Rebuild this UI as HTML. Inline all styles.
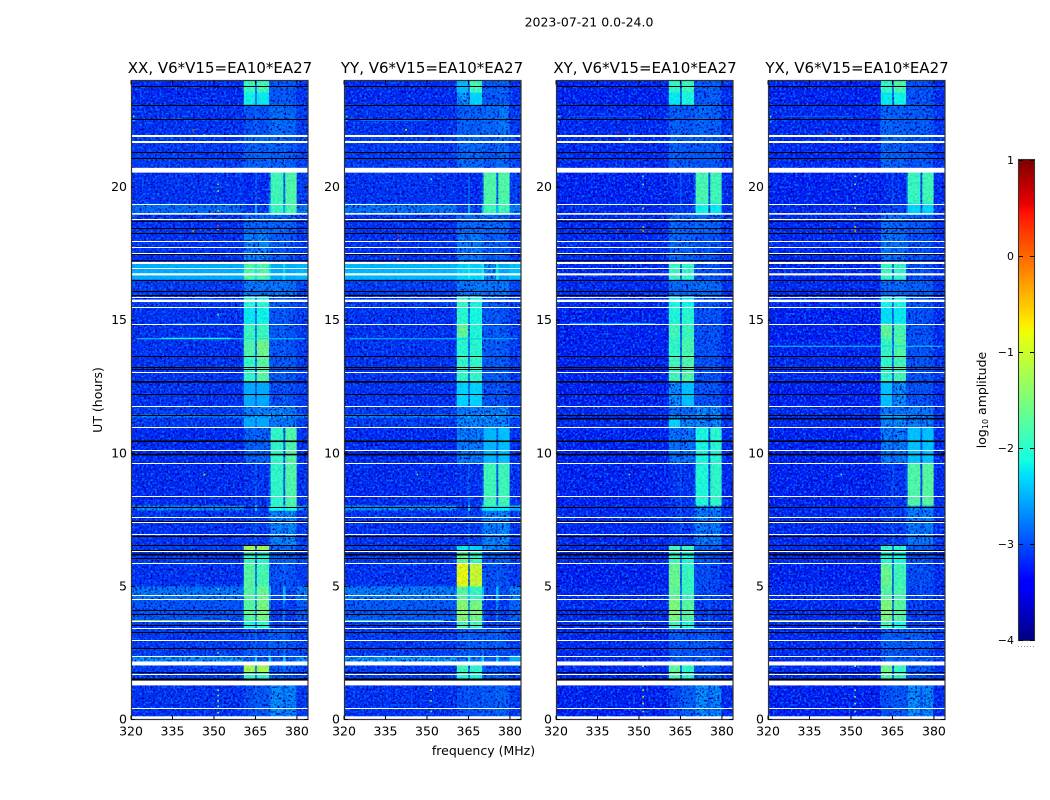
<!DOCTYPE html>
<html lang="en">
<head>
<meta charset="utf-8">
<title>2023-07-21 0.0-24.0</title>
<style>
html,body{margin:0;padding:0;background:#fff;}
svg{display:block;}
text{font-family:"DejaVu Sans","Liberation Sans",sans-serif;fill:#000;}
</style>
</head>
<body>
<svg id="figure" xmlns="http://www.w3.org/2000/svg" width="1050" height="800" viewBox="0 0 1050 800">
  <defs>
    <filter id="speck-dark" x="0" y="0" width="100%" height="100%" color-interpolation-filters="sRGB">
      <feTurbulence type="fractalNoise" baseFrequency="0.45" numOctaves="2" seed="4"/>
      <feColorMatrix type="matrix" values="0 0 0 0 0  0 0 0 0 0  0 0 0 0 0.6  4 0 0 0 -1.9"/>
    </filter>
    <filter id="speck-light" x="0" y="0" width="100%" height="100%" color-interpolation-filters="sRGB">
      <feTurbulence type="fractalNoise" baseFrequency="0.45" numOctaves="2" seed="11"/>
      <feColorMatrix type="matrix" values="0 0 0 0 0  0 0 0 0 0.45  0 0 0 0 1  0 4 0 0 -1.95"/>
    </filter>
  </defs>
  <rect width="1050" height="800" fill="#fff"/>
  <text x="589" y="26.5" text-anchor="middle" font-size="12.5">2023-07-21 0.0-24.0</text>
  <text x="220" y="73" text-anchor="middle" font-size="15">XX, V6*V15=EA10*EA27</text>
  <text x="432" y="73" text-anchor="middle" font-size="15">YY, V6*V15=EA10*EA27</text>
  <text x="645" y="73" text-anchor="middle" font-size="15">XY, V6*V15=EA10*EA27</text>
  <text x="857" y="73" text-anchor="middle" font-size="15">YX, V6*V15=EA10*EA27</text>
  <text transform="translate(102,400) rotate(-90)" text-anchor="middle" font-size="12.5">UT (hours)</text>
  <text x="483.5" y="755" text-anchor="middle" font-size="12.5">frequency (MHz)</text>
  <text transform="translate(986,400) rotate(-90)" text-anchor="middle" font-size="12.5">log<tspan font-size="8" dy="2">10</tspan><tspan dy="-2"> amplitude</tspan></text>
  <g id="panels"></g>
  <g id="colorbar"></g>
</svg>
<script>
// Axis tick labels
const freqTicks = [320, 335, 350, 365, 380];
const utTicks = [0, 5, 10, 15, 20];
const colorTicks = [-4, -3, -2, -1, 0, 1];

// Time rows (UT hours, descending) and frequency columns (MHz)
const utEdges = [24,23.55,23.10,21.97,20.73,20.54,19.38,18.97,18.29,17.16,16.53,15.89,15.51,14.87,14.35,13.67,12.69,11.79,11.46,11.34,10.97,9.64,8.04,7.85,6.54,6.35,5.86,5.00,4.47,3.72,3.42,2.67,2.40,2.18,2.03,1.77,1.54,1.28,0];
const freqEdges = [320,360.8,364.8,365.5,369.8,370.5,375,375.8,379.8,384];

// log10 amplitude per time row: background and four receiver bands
const bgXX    = [-3.2,-3.2,-3.15,-3.1,-3.1,-3.15,-2.8,-3.15,-3.15,-2.5,-3.1,-3.1,-3.15,-3.15,-3.15,-3.15,-3.15,-3.1,-2.65,-3.1,-3.2,-3.2,-2.6,-3.15,-3.1,-3.1,-3.15,-2.75,-2.95,-3.1,-3.1,-3.1,-2.6,-2.6,-3.1,-3.1,-3.1,-3.15];
const low1XX  = [-1.9,-2.15,-2.97,-2.87,-2.87,-3.2,-3.1,-2.82,-2.67,-1.75,-2.72,-2.0,-2.2,-1.9,-1.75,-1.95,-2.52,-2.67,-2.62,-2.52,-2.85,-3.15,-3.1,-3.1,-1.2,-1.9,-1.7,-1.7,-1.7,-2.1,-3.0,-2.92,-2.92,-2.92,-1.2,-1.9,-3.1,-3.0];
const low2XX  = [-1.85,-2.2,-2.97,-2.87,-2.87,-3.2,-3.1,-2.82,-2.62,-1.75,-2.72,-2.0,-2.15,-1.9,-1.55,-1.7,-2.52,-2.62,-2.62,-2.52,-2.85,-3.15,-3.1,-3.1,-1.2,-2.0,-1.8,-1.6,-1.5,-2.0,-3.0,-2.92,-2.92,-2.92,-1.2,-1.95,-3.1,-2.92];
const high1XX = [-2.92,-2.92,-2.77,-2.87,-2.87,-1.85,-1.9,-2.82,-2.92,-2.5,-2.72,-2.92,-2.92,-2.92,-2.92,-2.92,-3.0,-2.62,-2.62,-2.72,-1.95,-1.95,-2.1,-2.67,-2.82,-2.87,-2.97,-3.0,-3.1,-3.1,-2.92,-3.0,-2.92,-2.92,-2.92,-2.92,-2.92,-2.6];
const high2XX = [-2.92,-2.92,-2.82,-2.92,-2.92,-1.75,-1.8,-2.87,-2.97,-2.5,-2.77,-2.97,-2.97,-2.97,-2.97,-2.92,-3.0,-2.67,-2.62,-2.72,-1.75,-1.75,-2.0,-2.62,-2.82,-2.87,-2.97,-3.0,-3.1,-3.1,-2.97,-3.0,-2.92,-2.92,-2.92,-2.97,-2.97,-2.65];

const bgYY    = [-3.2,-3.2,-3.15,-3.1,-3.1,-3.15,-2.75,-3.15,-3.15,-2.45,-3.1,-3.1,-3.15,-3.15,-3.15,-3.15,-3.15,-3.1,-2.6,-3.1,-3.2,-3.2,-2.55,-3.15,-3.1,-3.1,-3.15,-2.7,-2.9,-3.1,-3.1,-3.1,-2.55,-2.55,-3.1,-3.1,-3.1,-3.15];
const low1YY  = [-2.45,-2.55,-2.87,-2.82,-2.82,-3.2,-3.1,-2.82,-2.72,-2.3,-2.72,-1.9,-2.0,-1.65,-2.0,-1.95,-2.3,-2.72,-2.62,-2.62,-2.7,-3.15,-3.1,-3.1,-2.2,-1.6,-0.8,-1.7,-1.4,-1.8,-2.92,-2.92,-2.72,-2.72,-1.85,-2.0,-3.1,-3.0];
const low2YY  = [-1.85,-2.3,-2.87,-2.82,-2.82,-3.2,-3.1,-2.82,-2.72,-2.3,-2.72,-2.1,-2.1,-2.05,-2.0,-1.95,-2.3,-2.72,-2.62,-2.62,-2.7,-3.15,-3.1,-3.1,-2.3,-1.9,-1.0,-1.9,-1.5,-1.9,-2.92,-2.92,-2.72,-2.72,-1.95,-2.1,-3.1,-2.97];
const high1YY = [-2.92,-2.92,-2.82,-2.92,-2.92,-1.75,-1.85,-2.82,-2.92,-2.55,-2.72,-2.92,-2.92,-2.92,-2.92,-2.92,-2.97,-2.62,-2.62,-2.62,-2.45,-1.85,-2.2,-2.67,-2.62,-2.87,-2.97,-3.0,-3.1,-3.1,-2.92,-3.0,-2.92,-2.92,-2.92,-2.92,-2.92,-2.92];
const high2YY = [-2.87,-2.87,-2.72,-2.82,-2.82,-1.75,-1.85,-2.82,-2.92,-2.52,-2.72,-2.97,-2.97,-2.92,-2.92,-2.92,-2.97,-2.62,-2.62,-2.62,-2.4,-1.85,-2.2,-2.62,-2.67,-2.87,-2.97,-3.0,-3.1,-3.1,-2.92,-3.0,-2.92,-2.92,-2.92,-2.92,-2.92,-2.87];

const bgXY    = [-3.25,-3.25,-3.2,-3.2,-3.2,-3.25,-3.2,-3.2,-3.2,-3.2,-3.2,-3.2,-3.25,-3.25,-3.25,-3.25,-3.25,-3.2,-3.2,-3.2,-3.25,-3.25,-3.2,-3.2,-3.2,-3.2,-3.25,-3.2,-3.2,-3.2,-3.2,-3.2,-3.2,-3.2,-3.2,-3.2,-3.2,-3.25];
const low1XY  = [-1.95,-2.2,-2.87,-2.87,-2.87,-3.2,-3.1,-2.82,-2.82,-1.9,-2.82,-2.1,-2.05,-1.85,-1.95,-1.85,-2.57,-2.77,-2.62,-2.3,-2.75,-3.15,-3.1,-3.1,-1.85,-1.9,-1.6,-1.65,-1.45,-1.9,-2.92,-2.92,-2.92,-2.92,-1.65,-1.75,-3.1,-3.05];
const low2XY  = [-1.9,-2.1,-2.92,-2.92,-2.92,-3.2,-3.1,-2.87,-2.87,-1.95,-2.82,-2.15,-2.0,-1.9,-1.8,-1.75,-2.4,-2.82,-2.62,-2.62,-2.75,-3.15,-3.1,-3.1,-1.9,-2.05,-1.9,-1.9,-1.7,-2.05,-2.97,-2.97,-2.97,-2.97,-1.95,-2.0,-3.1,-2.87];
const high1XY = [-2.92,-2.92,-2.82,-2.92,-2.92,-1.8,-2.15,-2.82,-2.97,-2.97,-2.77,-2.97,-2.97,-2.97,-2.97,-2.97,-2.97,-2.57,-2.62,-2.62,-2.1,-2.05,-2.62,-2.72,-2.82,-2.92,-3.0,-3.0,-3.1,-3.1,-2.92,-3.0,-2.92,-2.92,-2.97,-2.97,-2.97,-2.6];
const high2XY = [-2.87,-2.87,-2.87,-2.92,-2.92,-1.85,-2.2,-2.87,-2.97,-2.97,-2.82,-2.97,-2.97,-2.97,-2.97,-2.97,-2.97,-2.62,-2.62,-2.62,-2.0,-1.95,-2.62,-2.72,-2.87,-2.97,-3.05,-3.05,-3.1,-3.1,-2.97,-3.0,-2.97,-2.97,-2.97,-2.97,-2.97,-2.65];

const bgYX    = [-3.25,-3.25,-3.2,-3.2,-3.2,-3.25,-3.2,-3.2,-3.2,-3.2,-3.2,-3.2,-3.25,-3.25,-3.25,-3.2,-3.25,-3.2,-3.2,-3.2,-3.25,-3.25,-3.2,-3.2,-3.2,-3.2,-3.25,-3.2,-3.2,-3.2,-3.2,-3.2,-3.2,-3.2,-3.2,-3.2,-3.2,-3.25];
const low1YX  = [-1.95,-2.2,-2.82,-2.82,-2.82,-3.2,-3.05,-2.77,-2.72,-1.9,-2.82,-2.1,-2.25,-1.65,-1.9,-1.95,-2.4,-2.72,-2.52,-2.62,-2.7,-3.15,-3.1,-3.1,-1.95,-2.0,-1.6,-1.7,-1.45,-1.85,-2.87,-2.92,-2.82,-2.82,-1.55,-1.75,-3.1,-3.0];
const low2YX  = [-1.8,-2.15,-2.87,-2.87,-2.87,-3.2,-3.05,-2.82,-2.77,-1.95,-2.82,-2.1,-2.2,-1.8,-1.75,-1.85,-2.57,-2.77,-2.52,-2.62,-2.7,-3.15,-3.1,-3.1,-2.0,-2.1,-1.85,-1.8,-1.7,-2.1,-2.92,-2.92,-2.92,-2.92,-1.9,-1.95,-3.1,-2.92];
const high1YX = [-2.97,-2.97,-2.92,-2.97,-2.97,-1.9,-2.3,-2.92,-3.0,-3.0,-2.87,-2.97,-2.97,-2.97,-2.97,-2.97,-2.97,-2.72,-2.62,-2.67,-2.4,-1.75,-2.62,-2.72,-2.92,-2.97,-3.0,-3.05,-3.1,-3.1,-2.87,-3.0,-2.92,-2.92,-2.92,-2.97,-2.97,-2.6];
const high2YX = [-2.97,-2.97,-2.92,-2.97,-2.97,-1.85,-2.3,-2.92,-3.0,-3.0,-2.87,-2.97,-2.97,-2.97,-2.97,-2.97,-2.97,-2.72,-2.62,-2.67,-2.4,-1.7,-2.62,-2.72,-2.92,-2.97,-3.0,-3.05,-3.1,-3.1,-2.92,-3.0,-2.92,-2.92,-2.92,-2.97,-2.97,-2.65];

// Flagged (white) integrations: thin lines by UT, and wider [from, to] gaps
const flaggedLines = [21.97,21.9,21.74,21.69,19.37,18.79,17.99,17.74,17.53,17.2,17.13,16.96,15.86,15.49,14.86,13.07,11.78,10.99,10.13,9.64,8.4,7.61,7.4,6.97,6.32,5.87,4.67,4.54,3.69,3.44,2.99,2.39,1.72,0.44];
const flaggedGaps = [[20.72,20.54],[19.02,18.96],[16.76,16.68],[15.77,15.68],[2.18,2.03],[1.46,1.28],[0.12,0]];

// Zero-amplitude (black) integrations by UT
const deadLines = [23.8,23.09,22.56,21.31,21.1,18.74,18.45,18.28,17.47,17.27,16.51,16.09,15.94,13.66,13.25,13.17,12.21,11.43,7.97,7.44,6.91,6.56,6.38,6.05,4.12,3.97,3.54,3.27,2.67,1.77];
const deadGaps = [[12.71,12.65],[10.48,10.42],[9.98,9.92],[6.23,6.16],[1.54,1.46]];
const deadCross = [[11.33,11.27]];

// Narrow RFI streaks: [UT, from MHz, to MHz, log10 amplitude]
const streaksXX = [[3.71,320,356,-1.2],[14.3,322,383,-2.3],[14.32,331,356,-2.1],[14.85,335,356,-2.2]];
const streaksYY = [[3.71,320,356,-1.9],[14.3,322,383,-2.4],[22.5,326,350,-2.8]];
const streaksXY = [[14.87,325,356,-2.5],[3.71,328,350,-2.5],[22.65,325,350,-2.95]];
const streaksYX = [[3.71,320,356,-1.0],[14.02,320,383,-2.3],[22.65,325,350,-2.9]];

// Isolated hot channels: [MHz, UT, log10 amplitude]
const specksXX = [[321,22.65,-1.9],[321,22.5,-2.3],[342.5,22.15,0.2],[346.5,21.95,-1.7],[351.5,20.1,-1.7],[351.5,19.85,-1.5],[351.5,19.1,-0.5],[351.5,18.55,0.1],[351.5,18.42,-0.4],[342.5,18.35,-0.3],[351.5,1.1,-1.5],[351.5,0.9,-1.5],[351.5,0.7,-1.2],[351.5,0.5,-1.3],[351.5,0.25,-1.2],[346.5,9.2,-1.1],[351.5,15.2,-1.9],[351.5,4.9,-1.7],[351.5,2.5,-1.8]];
const specksYY = [[321,22.65,-1.9],[321,22.5,-2.3],[342.5,22.15,-0.8],[351.5,20.3,-2.0],[339.5,18.2,0.3],[339.5,18.0,-0.3],[339.5,17.7,0.2],[339.5,17.3,-0.2],[346.5,9.2,-1.9],[351.5,1.1,-1.6],[351.5,0.7,-1.5],[351.5,0.3,-1.6],[321,5.0,-1.9]];
const specksXY = [[321,22.65,-1.9],[321,22.45,-2.3],[342.5,22.05,0.2],[346.5,21.8,-1.7],[351.5,20.4,-1.7],[351.5,20.1,-1.6],[351.5,19.2,-1.0],[351.5,18.5,-0.4],[351.5,18.35,-0.3],[342.5,18.4,0.1],[346.5,9.2,-1.5],[351.5,1.1,-1.2],[351.5,0.85,-1.2],[351.5,0.6,-1.1],[351.5,0.3,-1.0],[351.5,3.45,-1.5],[351.5,2.0,-1.3]];
const specksYX = [[321,22.65,-1.9],[321,22.45,-2.3],[342.5,22.05,0.2],[346.5,21.8,-1.7],[351.5,20.4,-1.5],[351.5,20.1,-1.4],[351.5,19.2,-1.0],[351.5,18.5,-0.4],[351.5,18.35,-0.3],[342.5,18.4,0.2],[346.5,9.2,-2.0],[351.5,1.1,-1.5],[351.5,0.85,-1.5],[351.5,0.6,-1.5],[351.5,0.3,-1.5],[351.5,3.45,-1.4],[351.5,2.0,-1.2]];

const seriesXX = [bgXX, low1XX, low2XX, high1XX, high2XX];
const seriesYY = [bgYY, low1YY, low2YY, high1YY, high2YY];
const seriesXY = [bgXY, low1XY, low2XY, high1XY, high2XY];
const seriesYX = [bgYX, low1YX, low2YX, high1YX, high2YX];

const NS = 'http://www.w3.org/2000/svg';
const plotTop = 80.5, plotBottom = 719.5, plotWidth = 177;
const freqMin = 320, freqMax = 384, utMax = 24;
const colorMin = -4, colorMax = 1;
const brightCut = -2.55;
const barLeft = 1019, barWidth = 15, barTop = 160, barBottom = 640;

function yScale(ut) { return plotBottom - (ut / utMax) * (plotBottom - plotTop); }
function interp(t, pts) {
  if (t <= pts[0][0]) return pts[0][1];
  for (let i = 1; i < pts.length; i++) {
    if (t <= pts[i][0]) {
      const a = pts[i - 1], b = pts[i];
      return a[1] + (b[1] - a[1]) * (t - a[0]) / (b[0] - a[0]);
    }
  }
  return pts[pts.length - 1][1];
}
function jet(v) {
  const t = Math.max(0, Math.min(1, (v - colorMin) / (colorMax - colorMin)));
  const r = interp(t, [[0.35, 0], [0.66, 1], [0.89, 1], [1, 0.5]]);
  const g = interp(t, [[0.125, 0], [0.375, 1], [0.64, 1], [0.91, 0]]);
  const b = interp(t, [[0, 0.5], [0.11, 1], [0.34, 1], [0.65, 0]]);
  return 'rgb(' + Math.round(r * 255) + ',' + Math.round(g * 255) + ',' + Math.round(b * 255) + ')';
}
function makeEl(tag, attrs, parent) {
  const el = document.createElementNS(NS, tag);
  for (const k in attrs) el.setAttribute(k, attrs[k]);
  parent.appendChild(el);
  return el;
}

function drawPanel(root, label, left, series, streaks, specks, extraDead) {
  const xScale = f => left + (f - freqMin) / (freqMax - freqMin) * plotWidth;
  const g = makeEl('g', {}, root);
  
  
  const clipId = 'clip-' + label;
  const cp = makeEl('clipPath', { id: clipId }, g);
  makeEl('rect', { x: left, y: plotTop, width: plotWidth, height: plotBottom - plotTop }, cp);
  const heat = makeEl('g', { 'clip-path': 'url(#' + clipId + ')' }, g);
  
  

  const [bg, low1, low2, high1, high2] = series;
  const brightCells = [];
  for (let r = 0; r < utEdges.length - 1; r++) {
    const gapValue = bg[r] + 0.3;
    const values = [bg[r], low1[r], gapValue, low2[r], gapValue, high1[r], gapValue, high2[r], bg[r] + 0.05];
    const y0 = yScale(utEdges[r]), y1 = yScale(utEdges[r + 1]);
    for (let c = 0; c < freqEdges.length - 1; c++) {
      const x0 = xScale(freqEdges[c]), x1 = xScale(freqEdges[c + 1]);
      const cell = makeEl('rect', { x: x0, y: y0, width: x1 - x0 + 0.3, height: y1 - y0 + 0.3, fill: jet(values[c]) }, heat);
      
      
      if (values[c] > brightCut) brightCells.push([x0, y0, x1 - x0, y1 - y0, values[c]]);
    }
  }

  const darkNoise = makeEl('rect', { x: left, y: plotTop, width: plotWidth, height: plotBottom - plotTop, fill: '#000', filter: 'url(#speck-dark)' }, heat);
  
  
  const lightNoise = makeEl('rect', { x: left, y: plotTop, width: plotWidth, height: plotBottom - plotTop, fill: '#000', filter: 'url(#speck-light)' }, heat);
  
  

  brightCells.forEach(b => {
    const over = makeEl('rect', { x: b[0], y: b[1], width: b[2] + 0.3, height: b[3] + 0.3, fill: jet(b[4]), 'fill-opacity': 0.85 }, heat);
    
    
  });

  streaks.forEach(s => {
    const line = makeEl('rect', { x: xScale(s[1]), y: yScale(s[0]) - 0.5, width: xScale(s[2]) - xScale(s[1]), height: 1, fill: jet(s[3]) }, heat);
    
    
  });
  specks.forEach(s => {
    const dot = makeEl('rect', { x: xScale(s[0]) - 0.8, y: yScale(s[1]) - 0.8, width: 1.6, height: 1.6, fill: jet(s[2]) }, heat);
    
    
  });

  deadLines.forEach(ut => {
    const line = makeEl('rect', { x: left, y: Math.round(yScale(ut)), width: plotWidth, height: 1, fill: '#000' }, heat);
    
    
  });
  deadGaps.concat(extraDead).forEach(gp => {
    const line = makeEl('rect', { x: left, y: yScale(gp[0]), width: plotWidth, height: yScale(gp[1]) - yScale(gp[0]), fill: '#000' }, heat);
    
    
  });
  flaggedLines.forEach(ut => {
    const line = makeEl('rect', { x: left, y: Math.round(yScale(ut)), width: plotWidth, height: 1, fill: '#fff' }, heat);
    
    
  });
  flaggedGaps.forEach(gp => {
    const line = makeEl('rect', { x: left, y: yScale(gp[0]), width: plotWidth, height: yScale(gp[1]) - yScale(gp[0]), fill: '#fff' }, heat);
    
    
  });

  const frame = makeEl('rect', { x: left + 0.5, y: plotTop, width: plotWidth - 0.5, height: plotBottom - plotTop, fill: 'none', stroke: '#333', 'stroke-width': 1.2 }, g);
  
  

  const axes = makeEl('g', {}, g);
  
  
  freqTicks.forEach(f => {
    const x = xScale(f);
    const t1 = makeEl('line', { x1: x, x2: x, y1: plotBottom, y2: plotBottom - 4, stroke: '#000', 'stroke-width': 1 }, axes);
    
    
    const t2 = makeEl('line', { x1: x, x2: x, y1: plotTop, y2: plotTop + 4, stroke: '#000', 'stroke-width': 1 }, axes);
    
    
    const lab = makeEl('text', { x: x, y: 735.5, 'text-anchor': 'middle', 'font-size': 12.5 }, axes);
    lab.textContent = String(f);
    
    
  });
  utTicks.forEach(ut => {
    const y = yScale(ut);
    const t1 = makeEl('line', { x1: left, x2: left + 4, y1: y, y2: y, stroke: '#000', 'stroke-width': 1 }, axes);
    
    
    const t2 = makeEl('line', { x1: left + plotWidth, x2: left + plotWidth - 4, y1: y, y2: y, stroke: '#000', 'stroke-width': 1 }, axes);
    
    
    const lab = makeEl('text', { x: left - 4, y: y + 4, 'text-anchor': 'end', 'font-size': 12.5 }, axes);
    lab.textContent = String(ut);
    
    
  });
}

function drawColorbar(root) {
  const yBar = v => barBottom - (v - colorMin) / (colorMax - colorMin) * (barBottom - barTop);
  const h = (barBottom - barTop) / 240;
  for (let i = 0; i < 240; i++) {
    const v = colorMin + (i + 0.5) / 240 * (colorMax - colorMin);
    const seg = makeEl('rect', { x: barLeft, y: barBottom - (i + 1) * h, width: barWidth, height: h + 0.3, fill: jet(v) }, root);
    
    
  }
  const frame = makeEl('rect', { x: barLeft - 0.5, y: barTop - 0.5, width: barWidth + 1, height: barBottom - barTop + 1, fill: 'none', stroke: '#333', 'stroke-width': 1.1 }, root);
  
  
  colorTicks.forEach(v => {
    const y = Math.round(yBar(v)) + 0.5;
    const t1 = makeEl('line', { x1: barLeft, x2: barLeft + 4, y1: y, y2: y, stroke: '#000', 'stroke-width': 1 }, root);
    
    
    const t2 = makeEl('line', { x1: barLeft + barWidth, x2: barLeft + barWidth - 4, y1: y, y2: y, stroke: '#000', 'stroke-width': 1 }, root);
    
    
    const lab = makeEl('text', { x: barLeft - 5, y: yBar(v) + 4, 'text-anchor': 'end', 'font-size': 11 }, root);
    lab.textContent = v < 0 ? '\u2212' + Math.abs(v) : String(v);
    
    
  });
  const dots = makeEl('line', { x1: 1018, x2: 1035, y1: 646.5, y2: 646.5, stroke: '#999', 'stroke-width': 1, 'stroke-dasharray': '1 2' }, root);
  
  
}

const panelsRoot = document.getElementById('panels');
drawPanel(panelsRoot, 'xx', 131, seriesXX, streaksXX, specksXX, []);
drawPanel(panelsRoot, 'yy', 344, seriesYY, streaksYY, specksYY, []);
drawPanel(panelsRoot, 'xy', 556, seriesXY, streaksXY, specksXY, deadCross);
drawPanel(panelsRoot, 'yx', 768, seriesYX, streaksYX, specksYX, deadCross);
drawColorbar(document.getElementById('colorbar'));
</script>
</body>
</html>
